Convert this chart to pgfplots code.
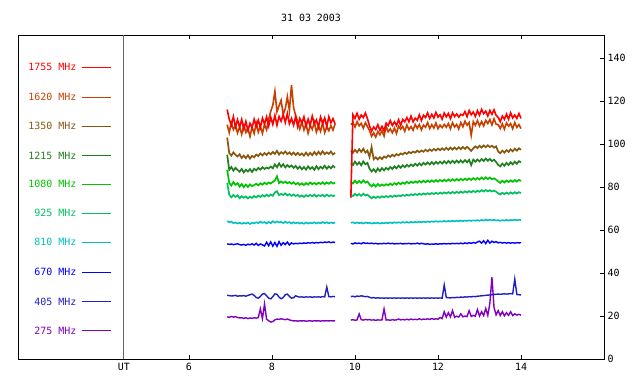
\documentclass[border=0pt]{standalone}
\usepackage{fontspec}
\setmainfont{DejaVu Sans Mono}
\usepackage{pgfplots}
\usepackage{pgfplotstable}
\pgfplotsset{compat=1.18}
\definecolor{cA}{RGB}{255,0,0}
\definecolor{cB}{RGB}{200,64,0}
\definecolor{cC}{RGB}{136,88,16}
\definecolor{cD}{RGB}{32,128,32}
\definecolor{cE}{RGB}{0,196,0}
\definecolor{cF}{RGB}{0,192,96}
\definecolor{cG}{RGB}{0,192,192}
\definecolor{cH}{RGB}{0,0,255}
\definecolor{cI}{RGB}{32,32,192}
\definecolor{cJ}{RGB}{128,0,192}
\definecolor{utgray}{RGB}{100,100,100}

\pgfplotstableread{
x r o b g G s c bl n p
6.92 116.0 109.0 103.0 95.0 88.0 82.0 64.2 53.6 29.6 19.6
6.97 111.5 105.3 95.8 88.0 81.9 76.4 63.6 53.3 29.5 19.4
7.02 108.7 110.0 94.6 89.3 80.7 75.2 63.9 53.5 29.3 19.8
7.07 112.7 106.7 96.1 87.6 82.3 76.3 63.2 53.2 29.4 19.5
7.12 108.0 108.7 95.0 88.9 81.0 75.4 63.5 53.4 29.6 19.7
7.17 111.3 105.1 94.2 87.9 81.8 76.1 63.0 53.6 29.2 19.3
7.22 107.8 108.0 95.2 87.1 80.2 74.8 63.4 53.2 29.4 19.1
7.27 111.4 104.5 93.5 88.4 81.4 75.7 62.9 53.0 29.3 19.2
7.32 107.0 108.6 94.6 86.8 79.9 75.0 63.3 53.3 29.5 18.9
7.37 110.5 105.4 93.4 88.0 81.1 75.6 63.0 52.9 29.2 19.2
7.42 106.4 107.4 94.8 87.2 80.0 74.7 63.5 53.4 29.6 18.8
7.47 109.6 103.5 93.2 88.3 81.2 75.5 62.8 53.1 29.9 19.1
7.52 107.6 107.9 94.5 87.0 80.4 74.9 63.4 53.6 30.2 18.9
7.57 111.5 104.9 93.8 88.5 80.9 75.8 63.1 53.0 29.6 19.2
7.62 108.1 109.8 95.1 87.7 81.5 75.2 63.6 53.8 28.6 19.0
7.67 111.1 105.5 94.4 88.9 80.8 76.0 63.2 52.8 28.3 19.3
7.72 107.7 108.2 95.6 88.1 81.7 75.4 63.9 53.5 29.1 23.3
7.77 112.0 104.9 94.7 89.2 81.1 76.2 63.3 53.1 30.2 18.8
7.82 109.3 109.1 95.8 88.4 82.0 75.6 63.7 52.6 30.4 25.6
7.87 112.6 106.6 94.9 89.0 81.3 76.4 63.0 54.3 29.4 18.5
7.92 108.4 111.5 96.0 88.6 82.1 75.7 63.8 52.7 28.3 17.8
7.97 112.4 115.2 95.2 89.5 81.6 76.5 63.1 54.5 28.0 17.2
8.02 109.1 118.0 96.3 88.7 82.4 75.9 64.1 52.5 29.0 17.4
8.07 113.3 124.5 95.4 90.5 83.0 77.5 63.4 54.2 30.3 18.2
8.12 108.7 115.0 96.8 89.2 85.0 78.0 64.0 52.4 30.1 18.6
8.17 112.8 117.8 95.1 91.0 81.8 76.2 63.5 54.6 28.8 18.4
8.22 110.6 120.3 96.2 89.4 82.6 76.8 63.8 52.9 28.0 18.7
8.27 113.7 113.8 95.5 90.6 81.9 76.3 63.2 54.1 28.6 18.5
8.32 110.0 116.5 96.5 89.1 82.5 77.0 63.9 53.2 29.9 18.3
8.37 114.2 122.0 95.3 90.2 81.7 76.1 63.3 54.4 30.2 18.6
8.42 109.4 115.5 96.1 89.3 82.3 76.7 63.7 53.0 29.1 18.2
8.47 111.9 127.5 95.0 90.0 81.5 75.9 63.0 54.0 28.3 17.9
8.52 108.8 117.0 96.0 88.9 82.2 76.5 63.6 53.5 28.5 17.7
8.57 112.8 113.2 94.9 89.8 81.2 75.8 63.1 53.8 29.4 17.8
8.62 108.0 110.5 95.9 88.5 81.9 76.3 63.5 53.6 29.0 17.6
8.67 111.9 107.0 94.8 89.5 81.0 75.5 63.0 53.9 28.8 17.8
8.72 109.7 110.2 95.6 88.2 81.7 76.1 63.4 53.7 28.9 17.7
8.77 112.6 106.5 94.6 89.3 80.9 75.4 62.9 54.0 28.7 17.8
8.82 108.3 109.4 96.0 88.1 81.8 76.2 63.5 53.8 28.9 17.6
8.87 111.5 105.0 94.7 89.6 81.1 75.6 63.0 54.1 28.8 17.7
8.92 108.6 108.7 95.9 88.4 82.1 76.3 63.4 53.9 28.9 17.8
8.97 113.0 106.8 94.8 89.2 81.3 75.7 63.1 54.2 28.7 17.6
9.02 109.3 110.1 96.3 88.0 81.9 76.4 63.6 53.9 28.9 17.8
9.07 111.2 105.5 95.0 89.7 81.2 75.5 63.0 54.2 28.8 17.7
9.12 107.9 108.5 96.4 88.3 82.0 76.2 63.5 54.0 28.9 17.8
9.17 112.5 105.9 95.2 89.4 81.4 75.8 63.1 54.3 28.8 17.6
9.22 109.5 109.9 96.6 88.6 82.2 76.3 63.7 54.1 29.0 17.8
9.27 112.1 105.3 95.3 89.9 81.3 75.6 63.2 54.4 28.9 17.7
9.32 108.1 108.1 96.1 88.5 82.1 76.4 63.6 54.2 33.5 17.8
9.37 112.7 106.2 95.4 89.6 81.5 75.7 63.1 54.5 29.0 17.7
9.42 109.9 108.6 96.5 88.7 82.3 76.2 63.5 54.1 28.9 17.8
9.47 111.8 106.5 95.1 89.8 81.6 75.8 63.2 54.4 29.1 17.7
9.52 109.4 109.3 95.9 89.0 82.0 76.1 63.4 54.2 29.0 17.8
}\segA

\pgfplotstableread{
x r o b g G s c bl n p
9.90 75.0 109.0 96.7 91.0 82.3 76.3 63.3 53.8 29.0 18.1
9.95 113.6 110.0 95.9 90.2 81.6 75.8 63.6 53.5 29.2 18.3
10.00 111.9 107.9 97.3 91.8 83.0 76.8 63.1 54.0 28.9 18.0
10.05 114.3 110.4 96.1 90.4 81.8 76.0 63.5 53.7 29.3 18.2
10.10 111.5 108.4 97.6 91.5 82.8 76.7 63.2 53.9 29.1 21.0
10.15 113.5 109.6 96.3 90.1 81.9 75.9 63.4 53.6 29.4 18.3
10.20 112.3 107.3 97.8 91.9 83.1 76.9 63.0 54.1 29.2 18.1
10.25 114.4 109.9 96.0 90.6 82.0 76.1 63.5 53.8 29.0 18.4
10.30 111.8 108.1 96.9 91.2 82.5 76.4 63.2 53.9 29.1 18.2
10.35 108.4 106.2 94.0 88.5 81.2 75.6 63.4 53.7 28.7 18.3
10.40 106.0 103.6 98.6 87.2 80.3 74.8 63.0 53.9 28.4 18.1
10.45 107.9 105.2 92.9 88.3 81.3 75.5 63.3 53.6 28.6 18.2
10.50 106.7 103.2 93.8 87.0 80.2 74.9 63.1 53.8 28.3 18.0
10.55 109.0 105.8 92.8 88.6 81.4 75.6 63.4 53.5 28.5 18.2
10.60 106.4 104.3 93.9 87.4 80.5 75.0 63.0 53.7 28.3 18.1
10.65 108.2 106.2 93.0 88.8 81.2 75.7 63.3 53.6 28.4 18.2
10.70 106.1 103.7 94.2 87.7 80.6 75.2 63.1 53.8 28.3 23.3
10.75 109.7 108.2 93.6 88.9 81.3 75.8 63.4 53.6 28.4 18.1
10.80 108.6 105.7 94.7 88.1 80.8 75.3 63.2 53.9 28.3 18.2
10.85 110.9 107.0 94.0 89.3 81.6 75.9 63.5 53.6 28.4 18.0
10.90 108.6 105.2 95.0 88.4 80.9 75.4 63.2 53.8 28.3 18.3
10.95 110.3 107.4 94.3 89.6 81.8 76.0 63.6 53.5 28.4 18.1
11.00 108.6 104.9 95.3 88.7 81.1 75.6 63.3 53.7 28.3 18.2
11.05 111.3 108.3 94.7 89.9 82.0 76.1 63.6 53.6 28.4 18.6
11.10 108.7 106.9 95.6 88.9 81.3 75.7 63.3 53.8 28.3 18.2
11.15 111.4 108.2 95.1 90.1 82.1 76.3 63.7 53.5 28.4 18.4
11.20 110.3 105.9 96.0 89.2 81.5 75.9 63.4 53.7 28.3 18.2
11.25 112.3 108.9 95.4 90.3 82.4 76.4 63.7 53.6 28.4 18.5
11.30 110.3 106.7 96.3 89.5 81.7 76.0 63.4 53.8 28.3 18.2
11.35 113.0 108.1 95.7 90.5 82.5 76.6 63.8 53.5 28.4 18.6
11.40 110.3 106.4 96.5 89.7 81.9 76.2 63.5 53.7 28.3 18.3
11.45 112.0 109.1 96.0 90.8 82.6 76.7 63.8 53.6 28.4 18.5
11.50 111.0 107.3 96.9 89.9 82.0 76.3 63.5 53.9 28.3 18.3
11.55 113.6 109.1 96.2 91.0 82.8 76.9 63.9 53.5 28.4 18.7
11.60 110.9 106.6 97.0 90.1 82.1 76.4 63.6 53.8 28.3 18.3
11.65 113.4 108.8 96.4 91.2 82.9 77.0 63.9 53.6 28.4 18.6
11.70 112.3 107.8 97.3 90.4 82.2 76.5 63.6 53.4 28.3 18.4
11.75 114.5 110.0 96.6 91.4 83.0 77.1 64.0 53.6 28.4 18.7
11.80 111.9 107.2 97.5 90.5 82.3 76.6 63.7 53.3 28.3 18.4
11.85 113.8 109.0 96.8 91.6 83.1 77.2 64.0 53.5 28.4 18.8
11.90 112.1 107.4 97.7 90.6 82.4 76.7 63.8 53.4 28.3 18.5
11.95 114.7 109.8 97.0 91.7 83.2 77.3 64.1 53.6 28.4 18.7
12.00 112.5 107.1 97.9 90.8 82.5 76.8 63.8 53.4 28.3 18.5
12.05 113.6 108.8 97.1 91.8 83.3 77.4 64.1 53.6 28.4 19.3
12.10 111.6 107.6 98.0 90.9 82.6 76.9 63.9 53.5 28.3 18.8
12.15 114.4 109.1 97.2 92.0 83.4 77.5 64.2 53.7 34.4 22.0
12.20 112.6 107.8 98.2 91.0 82.7 77.0 63.9 53.5 28.6 19.5
12.25 114.2 109.5 97.3 92.1 83.5 77.6 64.2 53.7 28.5 21.5
12.30 111.8 107.1 98.3 91.1 82.8 77.0 64.0 53.5 28.4 19.6
12.35 114.5 109.9 97.4 92.2 83.6 77.7 64.3 53.8 28.6 22.5
12.40 112.8 107.9 98.4 91.2 82.9 77.1 64.0 53.6 28.5 19.4
12.45 114.0 109.1 97.5 92.3 83.7 77.8 64.3 53.8 28.7 19.9
12.50 112.5 107.0 98.5 91.3 83.0 77.2 64.1 53.6 28.6 19.5
12.55 113.8 110.0 97.6 92.4 83.8 77.9 64.4 53.9 28.8 21.0
12.60 113.3 108.0 98.6 91.4 83.1 77.3 64.1 53.6 28.7 19.6
12.65 115.1 110.6 97.7 92.5 83.9 78.0 64.4 54.0 28.9 20.0
12.70 112.7 108.7 98.7 91.5 83.2 77.4 64.2 53.7 28.8 19.7
12.75 115.6 110.0 97.8 92.6 84.0 78.1 64.5 54.1 29.0 22.5
12.80 113.6 104.0 96.8 90.2 83.3 77.5 64.2 53.8 28.9 19.8
12.85 114.9 110.4 98.0 92.7 84.1 78.2 64.5 54.2 29.1 20.3
12.90 112.8 108.7 98.9 91.7 83.4 77.6 64.3 53.9 29.0 19.9
12.95 115.5 110.9 98.1 92.8 84.2 78.3 64.6 54.4 29.2 23.0
13.00 113.4 108.4 99.2 91.9 83.5 77.8 64.3 54.8 29.3 20.0
13.05 116.1 110.4 98.3 93.0 84.4 78.5 64.7 53.9 29.4 22.0
13.10 114.1 108.4 99.3 92.1 83.6 77.9 64.4 55.0 29.5 20.2
13.15 115.3 111.0 98.5 93.2 84.5 78.6 64.8 53.7 29.6 23.5
13.20 113.0 109.5 99.4 92.2 83.7 78.0 64.5 55.2 29.7 20.3
13.25 115.6 111.4 98.6 93.1 84.4 78.5 64.8 53.9 29.8 26.0
13.30 113.8 108.9 99.2 92.0 83.6 77.9 64.5 54.8 29.9 38.0
13.35 115.9 111.7 98.3 92.7 84.0 78.3 64.7 54.2 30.0 24.0
13.40 113.3 109.2 98.9 91.6 83.4 77.8 64.4 54.6 30.1 20.5
13.45 112.4 109.0 96.5 90.3 82.6 77.0 64.6 54.0 30.2 22.5
13.50 110.4 107.2 95.7 89.6 81.9 76.5 64.3 54.3 30.1 20.2
13.55 113.0 109.4 96.9 90.9 82.9 77.3 64.6 53.9 30.2 22.0
13.60 111.5 106.9 96.0 89.9 82.1 76.7 64.4 54.2 30.3 20.1
13.65 113.9 109.8 97.2 91.2 83.0 77.4 64.7 53.9 30.2 21.5
13.70 111.5 108.3 96.3 90.2 82.3 76.8 64.4 54.1 30.3 20.3
13.75 114.5 109.5 97.5 91.5 83.1 77.5 64.7 53.9 30.4 22.0
13.80 112.1 107.1 96.6 90.5 82.4 76.9 64.5 54.1 30.3 20.2
13.85 113.5 110.0 97.8 91.8 83.2 77.6 64.8 53.9 37.2 21.0
13.90 111.9 107.7 96.9 90.8 82.5 77.0 64.5 54.1 30.0 20.4
13.95 114.2 109.0 98.0 92.0 83.3 77.6 64.8 54.0 29.9 20.8
14.00 111.9 107.2 97.3 91.4 82.8 77.2 64.6 54.1 29.8 20.3
}\segB

\begin{document}
\begin{tikzpicture}[font=\fontsize{10}{12}\selectfont]
\useasboundingbox (0,0) rectangle (640bp,384bp);
\begin{axis}[
  at={(18bp,25bp)}, anchor=south west,
  scale only axis, width=586bp, height=324bp,
  xmin=1.88, xmax=16.0, ymin=0, ymax=150.7,
  axis line style={black, line width=0.9bp},
  tick align=inside,
  xtick={6,8,10,12,14},
  xtick pos=both, xticklabel pos=lower,
  ytick={0,20,40,60,80,100,120,140},
  ytick pos=right, yticklabel pos=right,
  major tick length=4bp,
  tick style={black, line width=0.9bp},
  extra x ticks={4.43},
  extra x tick labels={UT},
  extra x tick style={major tick length=0pt},
  /pgf/number format/assume math mode=true,
  ticklabel style={font=\fontsize{10}{12}\selectfont},
  xticklabel style={yshift=-1bp},
  title={31 03 2003},
  title style={yshift=4bp},
  every axis plot/.append style={mark=none, line join=miter},
  clip=false,
]
\addplot[utgray, line width=0.9bp] coordinates {(4.43,0) (4.43,150.7)};

\addplot[cJ, line width=1.4bp] table[x=x,y=p]{\segA};
\addplot[cJ, line width=1.4bp] table[x=x,y=p]{\segB};
\addplot[cI, line width=1.4bp] table[x=x,y=n]{\segA};
\addplot[cI, line width=1.4bp] table[x=x,y=n]{\segB};
\addplot[cH, line width=1.4bp] table[x=x,y=bl]{\segA};
\addplot[cH, line width=1.4bp] table[x=x,y=bl]{\segB};
\addplot[cG, line width=1.6bp] table[x=x,y=c]{\segA};
\addplot[cG, line width=1.6bp] table[x=x,y=c]{\segB};
\addplot[cF, line width=1.7bp] table[x=x,y=s]{\segA};
\addplot[cF, line width=1.7bp] table[x=x,y=s]{\segB};
\addplot[cE, line width=1.7bp] table[x=x,y=G]{\segA};
\addplot[cE, line width=1.7bp] table[x=x,y=G]{\segB};
\addplot[cD, line width=1.7bp] table[x=x,y=g]{\segA};
\addplot[cD, line width=1.7bp] table[x=x,y=g]{\segB};
\addplot[cC, line width=1.7bp] table[x=x,y=b]{\segA};
\addplot[cC, line width=1.7bp] table[x=x,y=b]{\segB};
\addplot[cB, line width=1.6bp] table[x=x,y=o]{\segA};
\addplot[cB, line width=1.6bp] table[x=x,y=o]{\segB};
\addplot[cA, line width=1.6bp] table[x=x,y=r]{\segA};
\addplot[cA, line width=1.6bp] table[x=x,y=r]{\segB};

% legend keys
\node[anchor=east, text=cA, inner sep=0pt] at (axis cs:3.29,135.7) {1755 MHz};
\node[anchor=east, text=cB, inner sep=0pt] at (axis cs:3.29,121.7) {1620 MHz};
\node[anchor=east, text=cC, inner sep=0pt] at (axis cs:3.29,108.2) {1350 MHz};
\node[anchor=east, text=cD, inner sep=0pt] at (axis cs:3.29,94.7) {1215 MHz};
\node[anchor=east, text=cE, inner sep=0pt] at (axis cs:3.29,81.3) {1080 MHz};
\node[anchor=east, text=cF, inner sep=0pt] at (axis cs:3.29,67.8) {925 MHz};
\node[anchor=east, text=cG, inner sep=0pt] at (axis cs:3.29,54.3) {810 MHz};
\node[anchor=east, text=cH, inner sep=0pt] at (axis cs:3.29,40.3) {670 MHz};
\node[anchor=east, text=cI, inner sep=0pt] at (axis cs:3.29,26.8) {405 MHz};
\node[anchor=east, text=cJ, inner sep=0pt] at (axis cs:3.29,13.3) {275 MHz};
\draw[cA, line width=0.9bp] (axis cs:3.42,135.7) -- (axis cs:4.12,135.7);
\draw[cB, line width=0.9bp] (axis cs:3.42,121.7) -- (axis cs:4.12,121.7);
\draw[cC, line width=0.9bp] (axis cs:3.42,108.2) -- (axis cs:4.12,108.2);
\draw[cD, line width=0.9bp] (axis cs:3.42,94.7) -- (axis cs:4.12,94.7);
\draw[cE, line width=0.9bp] (axis cs:3.42,81.3) -- (axis cs:4.12,81.3);
\draw[cF, line width=0.9bp] (axis cs:3.42,67.8) -- (axis cs:4.12,67.8);
\draw[cG, line width=0.9bp] (axis cs:3.42,54.3) -- (axis cs:4.12,54.3);
\draw[cH, line width=0.9bp] (axis cs:3.42,40.3) -- (axis cs:4.12,40.3);
\draw[cI, line width=0.9bp] (axis cs:3.42,26.8) -- (axis cs:4.12,26.8);
\draw[cJ, line width=0.9bp] (axis cs:3.42,13.3) -- (axis cs:4.12,13.3);
\end{axis}
\end{tikzpicture}
\end{document}
